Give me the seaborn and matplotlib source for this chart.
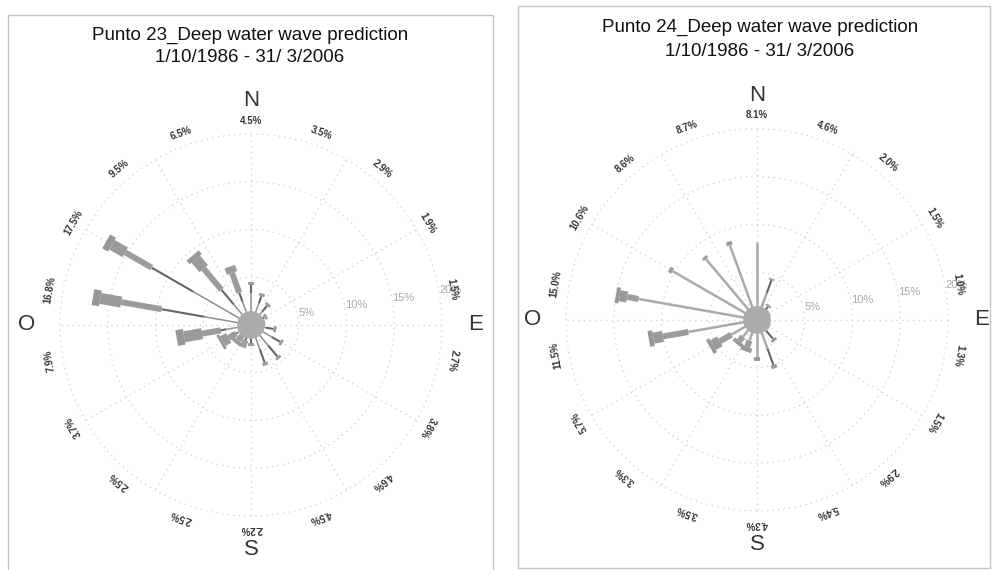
import numpy as np
import matplotlib
matplotlib.use("Agg")
import matplotlib.pyplot as plt
import seaborn as sns
from matplotlib.lines import Line2D

sns.set_style("white")
plt.rcParams['font.family'] = ['Liberation Sans', 'DejaVu Sans']

# wave directions (deg, clockwise from N) - 18 sectors of 20 deg
directions = [0, 20, 40, 60, 80, 100, 120, 140, 160, 180,
              200, 220, 240, 260, 280, 300, 320, 340]

# Punto 23: frequency (%) per Hs class and direction
p23_totals = [4.5, 3.5, 2.9, 1.9, 1.5, 2.7, 3.8, 4.6, 4.5, 2.2,
              2.5, 2.5, 3.7, 7.9, 16.8, 17.5, 9.5, 6.5]
p23_c1 = [3.4, 2.4, 1.8, 1.1, 0.9, 1.6, 2.5, 2.8, 2.7, 1.5,
          1.4, 1.2, 1.6, 2.6, 5.0, 7.0, 2.8, 2.6]
p23_c2 = [0.8, 0.8, 0.8, 0.5, 0.3, 0.8, 1.0, 1.5, 1.5, 0.4,
          0.3, 0.2, 0.2, 0.6, 4.5, 5.0, 2.0, 1.0]
p23_c3 = [0.3, 0.3, 0.3, 0.3, 0.3, 0.3, 0.3, 0.3, 0.3, 0.3,
          0.8, 0.7, 0.9, 2.0, 4.3, 3.2, 2.9, 2.2]
p23_c4 = [0, 0, 0, 0, 0, 0, 0, 0, 0, 0,
          0, 0.4, 0.7, 1.9, 2.2, 1.6, 1.3, 0.7]
p23_c5 = [0, 0, 0, 0, 0, 0, 0, 0, 0, 0,
          0, 0, 0.3, 0.8, 0.8, 0.7, 0.5, 0]

# Punto 24
p24_totals = [8.1, 4.6, 2.0, 1.5, 1.0, 1.3, 1.5, 2.9, 5.4, 4.3,
              3.5, 3.3, 5.7, 11.5, 15.0, 10.6, 8.6, 8.7]
p24_c1 = [8.1, 3.0, 1.0, 0.8, 0.6, 0.8, 1.0, 1.5, 3.2, 3.9,
          2.3, 2.3, 3.1, 7.3, 12.6, 10.2, 8.3, 8.3]
p24_c2 = [0, 1.4, 0.8, 0.5, 0.2, 0.3, 0.3, 1.1, 1.8, 0,
          0, 0, 0, 0, 0, 0, 0, 0]
p24_c3 = [0, 0.2, 0.2, 0.2, 0.2, 0.2, 0.2, 0.3, 0.4, 0.4,
          0.7, 0.6, 1.4, 2.7, 1.2, 0.4, 0.3, 0.4]
p24_c4 = [0, 0, 0, 0, 0, 0, 0, 0, 0, 0,
          0.5, 0.4, 0.8, 1.0, 0.8, 0, 0, 0]
p24_c5 = [0, 0, 0, 0, 0, 0, 0, 0, 0, 0,
          0, 0, 0.4, 0.5, 0.4, 0, 0, 0]

compass = {'N': 0, 'E': 90, 'S': 180, 'O': 270}


def draw_rose(ax, classes, totals, c1_style):
    ax.set_theta_zero_location('N')
    ax.set_theta_direction(-1)
    styles = [c1_style, (1.5, '#666666'), (4.3, '#9c9c9c'),
              (8.0, '#9a9a9a'), (11.5, '#979797')]
    for i, d in enumerate(directions):
        th = np.deg2rad(d)
        base = 0
        for cls, (lw, col) in zip(classes, styles):
            h = cls[i]
            if h > 0:
                ax.plot([th, th], [base, base + h], color=col, lw=lw,
                        solid_capstyle='butt', zorder=3)
            base += h
    # calm hub
    ax.bar(0, 1.45, width=2 * np.pi, bottom=0, color='#ababab',
           edgecolor='none', zorder=4)
    ax.set_ylim(0, 20.1)
    ax.set_yticks([5, 10, 15, 20])
    ax.set_yticklabels(['5%', '10%', '15%', '20%'], color='#a8a8a8', fontsize=8)
    ax.set_rlabel_position(81)
    ax.set_xticks(np.deg2rad(np.arange(0, 360, 30)))
    ax.set_xticklabels([])
    ax.grid(color='#d6d6d6', ls=(0, (1, 3)), lw=1.0)
    ax.spines['polar'].set_visible(False)
    for d, v in zip(directions, totals):
        ax.text(np.deg2rad(d), 21.4, f"{v:.1f}%", rotation=-d,
                rotation_mode='anchor', ha='center', va='center',
                fontsize=7, fontweight='bold', color='#333333', clip_on=False)
    for lab, d in compass.items():
        ax.text(np.deg2rad(d), 23.5, lab, ha='center', va='center',
                fontsize=16, color='#333333', clip_on=False)


fig = plt.figure(figsize=(9.93, 5.70), dpi=100)

ax1 = fig.add_axes([0.0594, 0.093, 0.3867, 0.6737], projection='polar')
draw_rose(ax1, [p23_c1, p23_c2, p23_c3, p23_c4, p23_c5], p23_totals,
          (1.1, '#8f8f8f'))
ax2 = fig.add_axes([0.569, 0.102, 0.3867, 0.6737], projection='polar')
draw_rose(ax2, [p24_c1, p24_c2, p24_c3, p24_c4, p24_c5], p24_totals,
          (1.8, '#aaaaaa'))

title_kw = dict(ha='center', va='center', fontsize=13.5, color='#111111')
fig.text(250 / 993, 1 - 35 / 570, "Punto 23_Deep water wave prediction", **title_kw)
fig.text(250 / 993, 1 - 58 / 570, "1/10/1986 - 31/ 3/2006", **title_kw)
fig.text(760 / 993, 1 - 27 / 570, "Punto 24_Deep water wave prediction", **title_kw)
fig.text(760 / 993, 1 - 51 / 570, "1/10/1986 - 31/ 3/2006", **title_kw)

# panel frames
frame = dict(color='#c4c4c4', lw=1.0, transform=fig.transFigure)
fig.add_artist(Line2D([8 / 993, 8 / 993, 493 / 993, 493 / 993],
                      [0, 1 - 15 / 570, 1 - 15 / 570, 0], **frame))
fig.add_artist(Line2D([518 / 993, 518 / 993, 990 / 993, 990 / 993],
                      [2 / 570, 1 - 6 / 570, 1 - 6 / 570, 2 / 570], **frame))
fig.add_artist(Line2D([518 / 993, 990 / 993], [2 / 570, 2 / 570], **frame))

fig.savefig("out.png", dpi=100)
